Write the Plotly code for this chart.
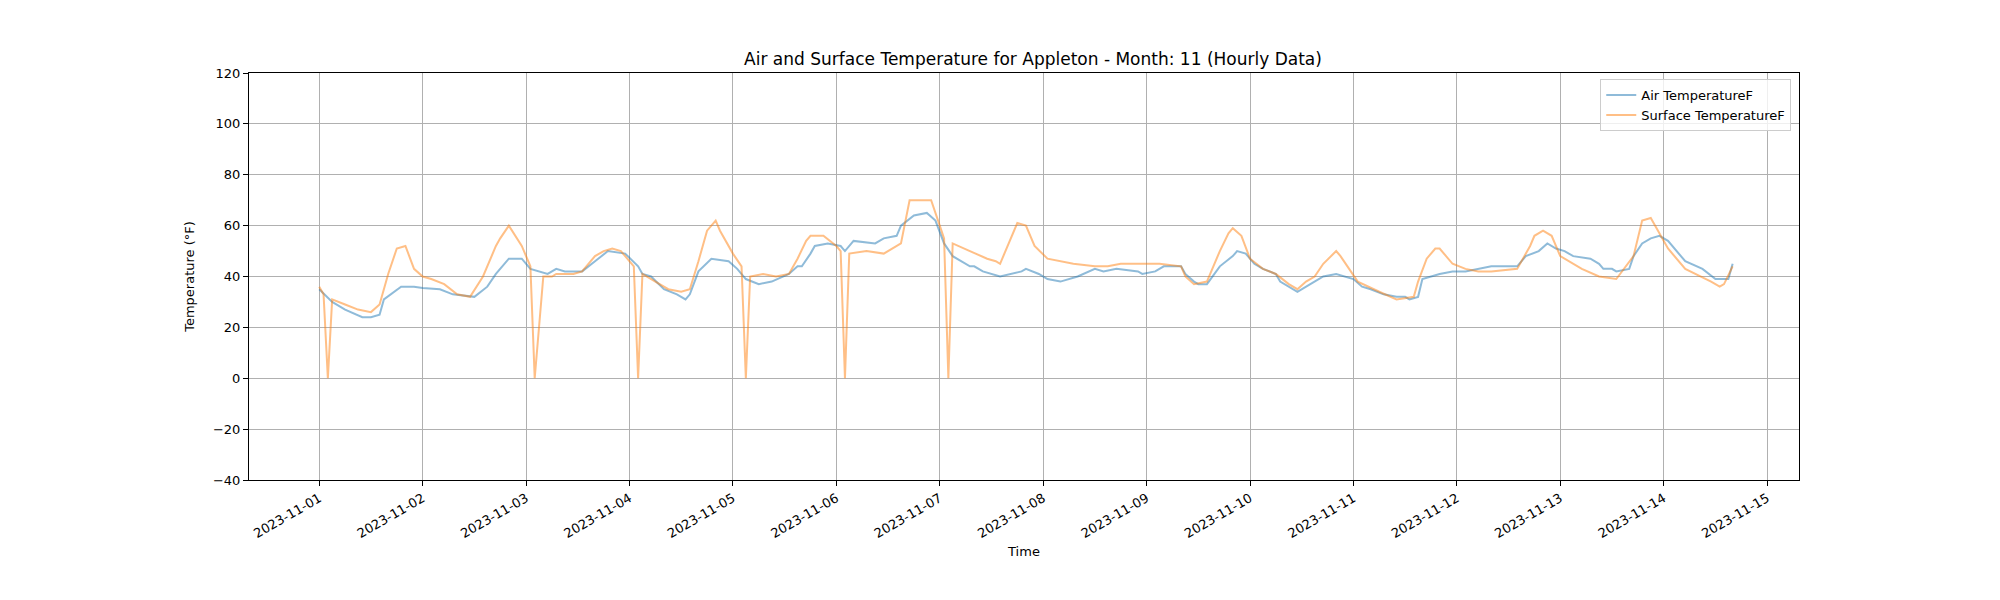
import pandas as pd
import plotly.graph_objects as go

start = pd.Timestamp("2023-11-01 00:00")

# hours since 2023-11-01 00:00
air_hours = [0, 3, 6, 10, 12, 14, 15, 19, 22, 24, 28, 31, 36, 39, 41, 44, 47, 49, 53, 55, 57, 61, 64, 67,
             71, 74, 75, 77, 80, 83, 85, 86, 88, 91, 95, 97, 99, 102, 105, 109, 111, 112, 114, 115, 118,
             121, 122, 124, 129, 131, 134, 135, 138, 141, 143, 145, 147, 151, 152, 154, 158, 163, 164,
             167, 169, 172, 176, 180, 182, 185, 190, 191, 194, 196, 200, 201, 203, 204, 206, 209, 212,
             213, 215, 217, 219, 222, 223, 227, 230, 233, 236, 238, 240, 242, 244, 247, 250, 252, 253,
             255, 256, 260, 263, 266, 269, 272, 275, 277, 278, 280, 283, 285, 287, 289, 291, 295, 297,
             298, 300, 301, 304, 305, 307, 309, 311, 313, 315, 317, 321, 324, 327, 328]
air_temp = [35, 30, 27, 24, 24, 25, 31, 36, 36, 35.5, 35, 33, 32, 36, 41, 47, 47, 43, 41, 43, 42, 42, 46, 50,
            49, 44, 41, 40, 35, 33, 31, 33, 42, 47, 46, 43, 39, 37, 38, 41, 44, 44, 49, 52, 53,
            52, 50, 54, 53, 55, 56, 60, 64, 65, 62, 53, 48, 44, 44, 42, 40, 42, 43,
            41, 39, 38, 40, 43, 42, 43, 42, 41, 42, 44, 44, 41, 38, 37, 37, 44, 48,
            50, 49, 45, 43, 41, 38, 34, 37, 40, 41, 40, 39, 36, 35, 33, 32, 32, 31,
            32, 39, 41, 42, 42, 43, 44, 44, 44, 44, 48, 50, 53, 51, 50, 48, 47, 45,
            43, 43, 42, 43, 48, 53, 55, 56, 54, 50, 46, 43, 39, 39, 45]

surf_hours = [0, 1, 2, 3, 6, 9, 12, 14, 16, 18, 20, 22, 24, 26, 29, 32, 35, 38, 41, 42, 44, 47, 49, 50, 52,
              54, 55, 59, 61, 64, 66, 68, 70, 72, 73, 74, 75, 78, 81, 84, 86, 88, 90, 92, 93, 96, 98, 99,
              100, 103, 106, 109, 111, 113, 114, 117, 120, 121, 122, 123, 127, 131, 133, 135, 137, 138,
              142, 144, 145, 146, 147, 151, 155, 157, 158, 162, 164, 166, 169, 175, 180, 183, 186, 191,
              195, 200, 201, 203, 206, 209, 211, 212, 214, 216, 219, 222, 225, 227, 229, 231, 233, 236,
              237, 239, 241, 246, 250, 254, 255, 257, 259, 260, 263, 266, 269, 272, 278, 281, 282, 284,
              286, 288, 293, 297, 301, 305, 307, 309, 311, 313, 317, 323, 325, 326, 328]
surf_temp = [36, 33, 0, 31, 29, 27, 26, 29, 41, 51, 52, 43, 40, 39, 37, 33, 32, 40, 52, 55, 60, 52, 44, 0, 40,
             40, 41, 41, 42, 48, 50, 51, 50, 46, 44, 0, 41, 38, 35, 34, 35, 46, 58, 62, 58, 49, 44, 0,
             40, 41, 40, 41, 47, 54, 56, 56, 52, 50, 0, 49, 50, 49, 51, 53, 70, 70,
             70, 60, 55, 0, 53, 50, 47, 46, 45, 61, 60, 52, 47, 45, 44, 44, 45, 45,
             45, 44, 40, 37, 38, 50, 57, 59, 56, 47, 43, 41, 37, 35, 38, 40, 45, 50,
             48, 43, 38, 34, 31, 32, 38, 47, 51, 51, 45, 43, 42, 42, 43, 52, 56, 58,
             56, 48, 43, 40, 39, 48, 62, 63, 57, 51, 43, 38, 36, 37, 44]

air_time = [start + pd.Timedelta(hours=h) for h in air_hours]
surf_time = [start + pd.Timedelta(hours=h) for h in surf_hours]
tick_days = pd.date_range("2023-11-01", "2023-11-15", freq="D")

fig = go.Figure()
fig.add_trace(go.Scatter(x=air_time, y=air_temp, mode="lines", name="Air TemperatureF",
                         line=dict(color="rgba(31,119,180,0.5)", width=2)))
fig.add_trace(go.Scatter(x=surf_time, y=surf_temp, mode="lines", name="Surface TemperatureF",
                         line=dict(color="rgba(255,127,14,0.5)", width=2)))

axis_common = dict(showline=True, linecolor="black", mirror=True, ticks="outside",
                   tickcolor="black", ticklen=5, showgrid=True, gridcolor="#b0b0b0",
                   gridwidth=1, zeroline=False, tickfont=dict(size=13, color="black"))

fig.update_layout(
    width=2000, height=600,
    paper_bgcolor="white", plot_bgcolor="white",
    margin=dict(l=241, r=209, t=65, b=128),
    font=dict(family="DejaVu Sans", color="black"),
    title=dict(text="Air and Surface Temperature for Appleton - Month: 11 (Hourly Data)",
               x=0.5125, xanchor="center", y=0.905, yanchor="bottom", font=dict(size=17)),
    xaxis=dict(axis_common, tickvals=list(tick_days), ticktext=[d.strftime("%Y-%m-%d") for d in tick_days],
               tickangle=-30,
               range=[start - pd.Timedelta(hours=16.3), start + pd.Timedelta(hours=343.4)],
               title=dict(text="Time", font=dict(size=13), standoff=6)),
    yaxis=dict(axis_common, range=[-40, 120], dtick=20,
               title=dict(text="Temperature (°F)", font=dict(size=13))),
    legend=dict(x=0.995, y=0.985, xanchor="right", yanchor="top", bgcolor="rgba(255,255,255,0.8)",
                bordercolor="#cccccc", borderwidth=1, font=dict(size=13)),
)

fig.write_html("out.html")
